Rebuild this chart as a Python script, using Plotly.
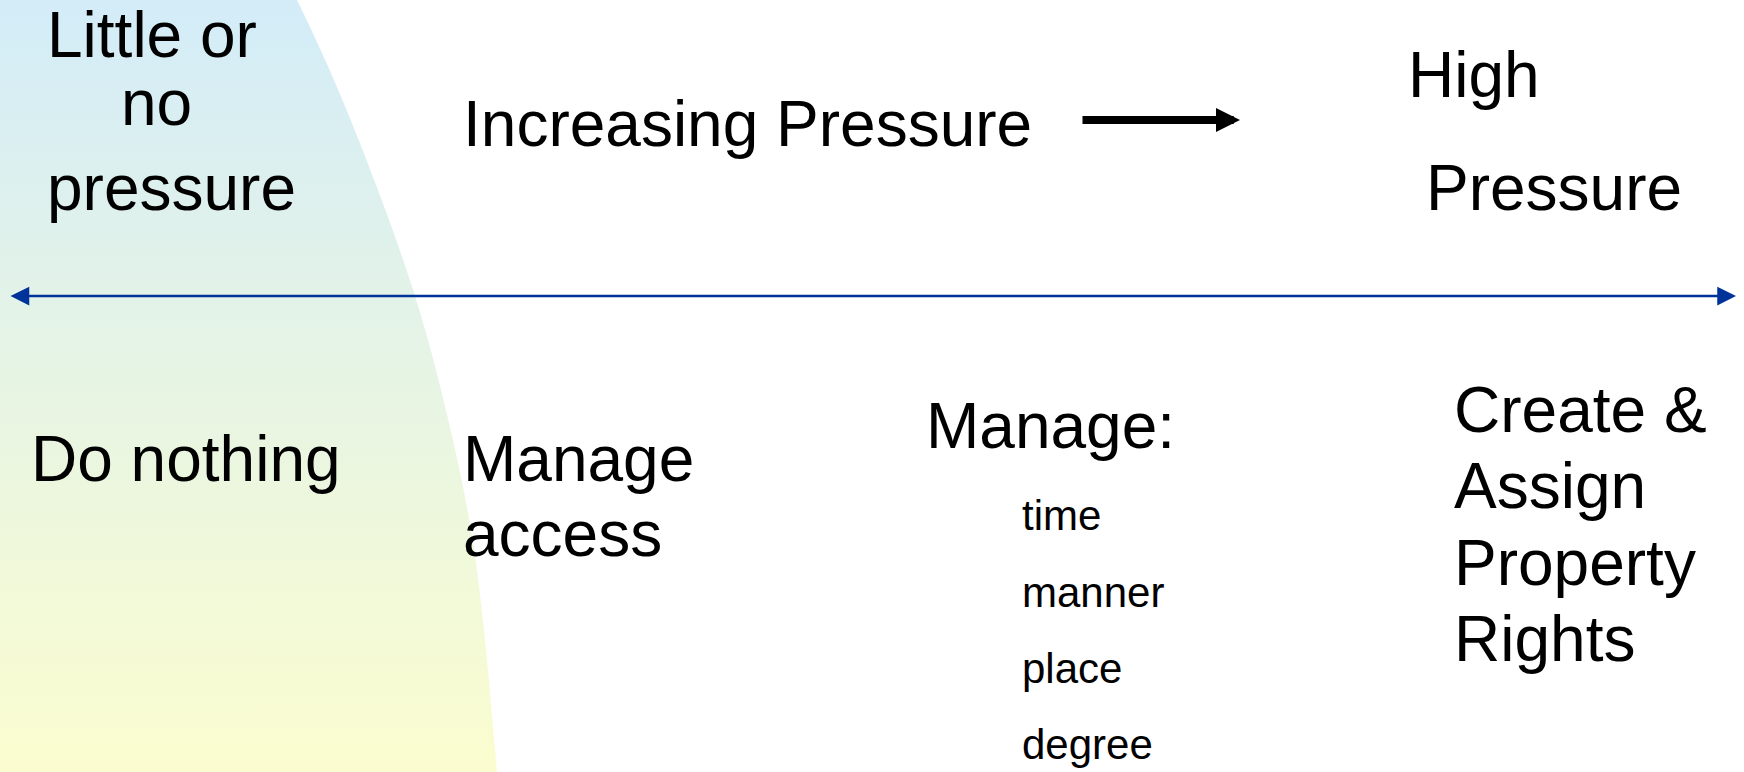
import plotly.graph_objects as go

W, H = 1744, 772

# Shaded "little or no pressure" zone boundary (pixel coordinates, y downwards)
zone_x = [-100, 150, 245, 297, 347, 415, 454, 475, 497, 505, -100]
zone_y = [-300, -300, -100, 0, 111, 296, 445, 556, 772, 900, 900]
zone_top_color = "#D3ECF8"
zone_bottom_color = "#FBFDCF"

# Text labels: text, left x, baseline y, font size
labels = ["Little or", "no", "pressure",
          "Increasing Pressure",
          "High", "Pressure",
          "Do nothing",
          "Manage", "access",
          "Manage:", "time", "manner", "place", "degree",
          "Create &", "Assign", "Property", "Rights"]
label_x = [46, 120, 46,
           462,
           1407, 1425,
           30,
           462, 462,
           925, 1021, 1021, 1021, 1021,
           1453, 1453, 1453, 1453]
label_base = [57, 125, 210,
              146,
              97, 210,
              481,
              481, 556,
              448, 530, 607, 683, 759,
              432, 508, 585, 661]
label_size = [64, 64, 64,
              64,
              64, 64,
              64,
              64, 64,
              64, 42, 42, 42, 42,
              64, 64, 64, 64]

# Arrows
axis_arrow_x = [9, 1736]
axis_arrow_y = 296
axis_color = "#003399"
pressure_arrow_x = [1081, 1240]
pressure_arrow_y = 120

fig = go.Figure()

fig.add_trace(go.Scatter(
    x=zone_x, y=zone_y, mode="lines", line=dict(width=0, shape="spline", smoothing=1),
    fill="toself",
    fillgradient=dict(type="vertical",
                      colorscale=[[0, zone_top_color], [1, zone_bottom_color]],
                      start=0, stop=H),
    hoverinfo="skip", showlegend=False))

annotations = []
for t, x, b, s in zip(labels, label_x, label_base, label_size):
    annotations.append(dict(
        x=x, y=b - 0.347 * s, xref="x", yref="y", text=t, showarrow=False,
        xanchor="left", yanchor="middle", borderpad=0,
        font=dict(family="Liberation Sans, Arial, sans-serif", size=s, color="black")))

# blue double-headed axis arrow
annotations.append(dict(
    x=axis_arrow_x[1], y=axis_arrow_y, ax=axis_arrow_x[0], ay=axis_arrow_y,
    xref="x", yref="y", axref="x", ayref="y", text="", showarrow=True,
    arrowhead=2, startarrowhead=2, arrowside="end+start",
    arrowsize=1.5, startarrowsize=1.5, arrowwidth=2.5, arrowcolor=axis_color,
    standoff=0, startstandoff=0))

# black "increasing pressure" arrow
annotations.append(dict(
    x=pressure_arrow_x[1], y=pressure_arrow_y, ax=pressure_arrow_x[0], ay=pressure_arrow_y,
    xref="x", yref="y", axref="x", ayref="y", text="", showarrow=True,
    arrowhead=2, arrowsize=0.6, arrowwidth=8, arrowcolor="black", standoff=0))

fig.update_layout(
    width=W, height=H, margin=dict(l=0, r=0, t=0, b=0),
    paper_bgcolor="white", plot_bgcolor="white",
    xaxis=dict(range=[0, W], visible=False, fixedrange=True),
    yaxis=dict(range=[H, 0], visible=False, fixedrange=True),
    annotations=annotations, showlegend=False)

fig.write_html("out.html", config={"displayModeBar": False},
               post_script="document.body.style.margin='0';document.body.style.overflow='hidden';")
